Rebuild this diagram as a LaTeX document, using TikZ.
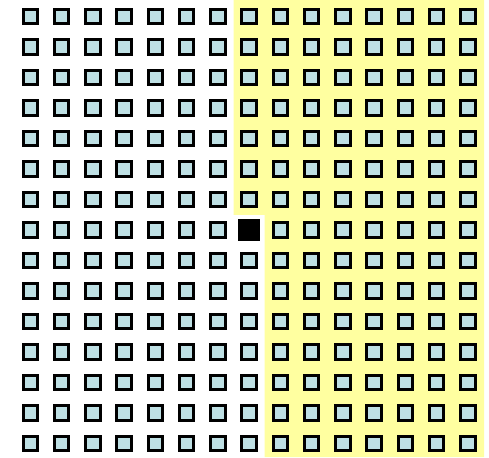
\documentclass[tikz,border=0pt]{standalone}
\definecolor{cellblue}{RGB}{190,224,228}
\definecolor{yellowbg}{RGB}{255,255,160}
\begin{document}
\begin{tikzpicture}[x=1pt,y=1pt,
  cell/.style={draw=black, line width=3pt, fill=cellblue, minimum size=14.5pt, inner sep=0pt, outer sep=0pt},
  blackcell/.style={fill=black, minimum size=21.5pt, inner sep=0pt, outer sep=0pt},
  region/.style={fill=yellowbg}]
\useasboundingbox (0,0) rectangle (489,457);
\fill[region] (233.5,457) -- (484,457) -- (484,0) -- (264.7,0) -- (264.7,242) -- (233.5,242) -- cycle;
\foreach \i in {0,...,14} {
  \foreach \j in {0,...,14} {
    \pgfmathsetmacro{\px}{30.3+31.26*\i}
    \pgfmathsetmacro{\py}{457-(16.7+30.5*\j)}
    \ifnum\i=7 \ifnum\j=7
      \node[blackcell] (c-\i-\j) at (\px,\py) {};
    \else
      \node[cell] (c-\i-\j) at (\px,\py) {};
    \fi
    \else
      \node[cell] (c-\i-\j) at (\px,\py) {};
    \fi
  }
}
\end{tikzpicture}
\end{document}
